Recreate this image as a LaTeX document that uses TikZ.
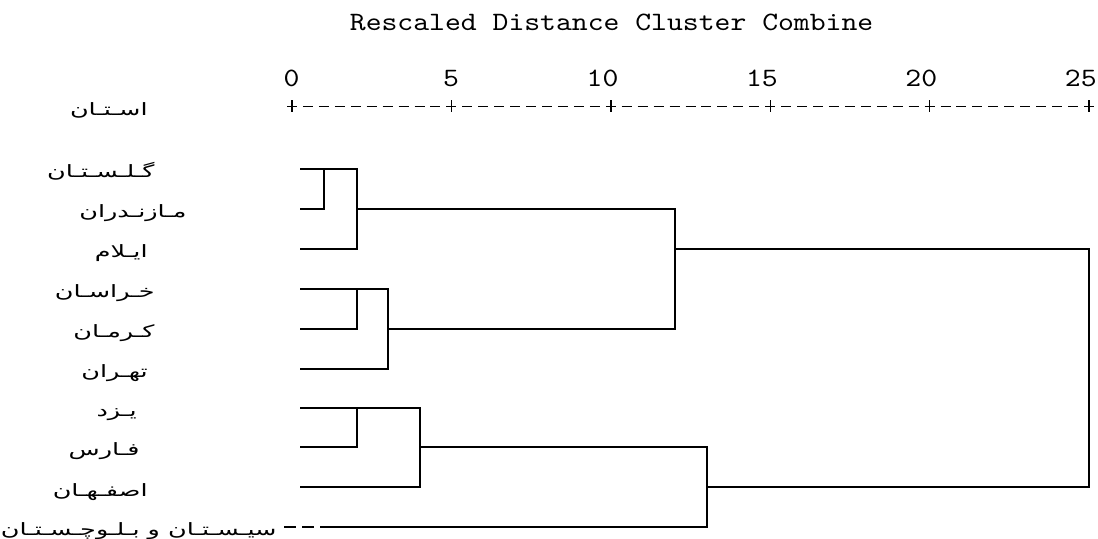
\documentclass[tikz,border=0pt]{standalone}
\usepackage{fontspec}
\usepackage{xcolor}
\usepackage{tikz}
\usetikzlibrary{positioning,calc}
\TeXXeTstate=1
\newfontfamily\farsifont[Script=Arabic,FakeStretch=1.5]{DejaVu Sans}
\newfontfamily\spssfont{lmmono10-regular.otf}[FakeStretch=1.14]

\tikzset{
  dendro/.style={line width=0.9pt},
  axisline/.style={line width=0.7pt, dash pattern=on 5pt off 2.97pt},
  provname/.style={anchor=base east, inner sep=0, font=\farsifont\fontsize{8.5}{10}\selectfont},
  scalenum/.style={anchor=base east, inner sep=0, font=\spssfont\fontsize{13.25}{15}\selectfont}
}

\begin{document}
\begin{tikzpicture}[x=0.5pt,y=-0.5pt]
  \useasboundingbox (0,0) rectangle (1098,539);

  % heading and scale
  \node[scalenum, anchor=base west] (title) at (349.5,30.7) {Rescaled Distance Cluster Combine};
  \coordinate (axisL) at (287,106.5);
  \coordinate (axisR) at (1094,106.5);
  \draw[axisline] (axisL) -- (axisR);
  \foreach \v in {0,5,...,25}{
    \draw[line width=0.7pt] ({292+31.88*\v},100.5) -- ({292+31.88*\v},112.5);
    \node[scalenum] (num\v) at ({300+31.88*\v},87) {\v};
  }

  % province names
  \node[provname] (ostan) at (148,116) {\beginR اسـتـان\endR};
  \node[provname] (golestan) at (155,178) {\beginR گـلـسـتـان\endR};
  \node[provname] (mazandaran) at (187,218) {\beginR مـازنـدران\endR};
  \node[provname] (ilam) at (148,258) {\beginR ایـلام\endR};
  \node[provname] (khorasan) at (155,298) {\beginR خـراسـان\endR};
  \node[provname] (kerman) at (155,338) {\beginR کـرمـان\endR};
  \node[provname] (tehran) at (148,378) {\beginR تهـران\endR};
  \node[provname] (yazd) at (137,417) {\beginR یـزد\endR};
  \node[provname] (fars) at (140,456) {\beginR فـارس\endR};
  \node[provname] (isfahan) at (148,496) {\beginR اصفـهـان\endR};
  \node[provname] (sistan) at (277,536) {\beginR سیـسـتـان و بـلـوچـسـتـان\endR};

  % leaves
  \coordinate (leaf1) at (300,169);
  \coordinate (leaf2) at (300,209);
  \coordinate (leaf3) at (300,249);
  \coordinate (leaf4) at (300,289);
  \coordinate (leaf5) at (300,329);
  \coordinate (leaf6) at (300,369);
  \coordinate (leaf7) at (300,408);
  \coordinate (leaf8) at (300,447);
  \coordinate (leaf9) at (300,487);
  \coordinate (leaf10) at (320,527);
  \coordinate (stub) at (284,527);

  % joins
  \coordinate (j1) at (324,169);
  \coordinate (j2) at (357,209);
  \coordinate (j3) at (357,289);
  \coordinate (j4) at (388,329);
  \coordinate (j5) at (357,408);
  \coordinate (j6) at (420,447);
  \coordinate (j7) at (675,249);
  \coordinate (j8) at (707,487);
  \coordinate (j9) at (1089,249);

  \draw[dendro] (leaf2) -- (j1 |- leaf2) -- (j1);
  \draw[dendro] (leaf1) -- (j2 |- leaf1) -- (j2 |- leaf3) -- (leaf3);
  \draw[dendro] (leaf5) -- (j3 |- leaf5) -- (j3);
  \draw[dendro] (leaf4) -- (j4 |- leaf4) -- (j4 |- leaf6) -- (leaf6);
  \draw[dendro] (leaf8) -- (j5 |- leaf8) -- (j5);
  \draw[dendro] (leaf7) -- (j6 |- leaf7) -- (j6 |- leaf9) -- (leaf9);
  \draw[dendro] (j2) -- (j7 |- j2) -- (j7 |- j4) -- (j4);
  \draw[dendro] (j6) -- (j8 |- j6) -- (j8 |- leaf10) -- (leaf10);
  \draw[dendro, dash pattern=on 6pt off 3pt] (stub) -- (leaf10);
  \draw[dendro] (j7) -- (j9) -- (j9 |- j8) -- (j8);
\end{tikzpicture}
\end{document}
